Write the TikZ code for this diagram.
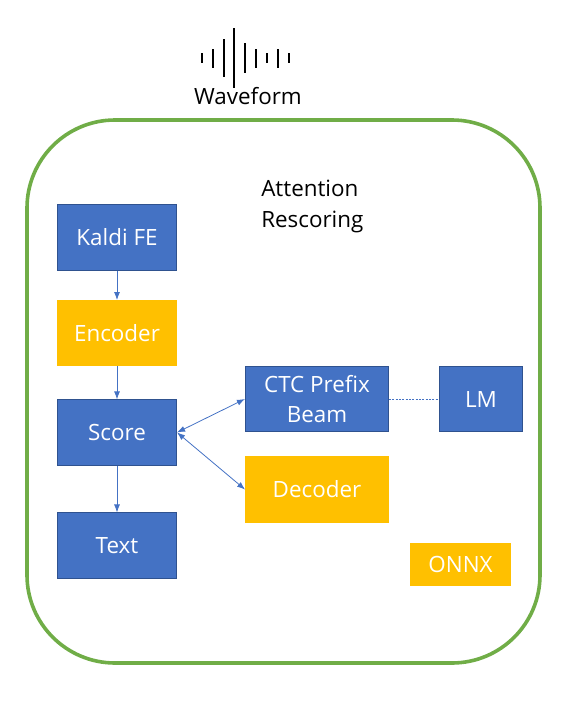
\documentclass[tikz,border=0pt]{standalone}
\usepackage{fontspec}
\setmainfont{Open Sans}
\usetikzlibrary{positioning, arrows.meta}
\definecolor{boxblue}{HTML}{4472C4}
\definecolor{boxedge}{HTML}{2F528F}
\definecolor{boxgold}{HTML}{FFC000}
\definecolor{framegreen}{HTML}{70AD47}
\tikzset{
  blockbase/.style={minimum height=49pt, inner sep=0pt, align=center, text=white, font=\fontsize{16.8}{23}\selectfont},
  blue block/.style={blockbase, fill=boxblue, draw=boxedge, line width=0.6pt},
  gold block/.style={blockbase, fill=boxgold},
  link/.style={-{Latex[length=6pt,width=4.5pt]}, draw=boxblue, line width=0.6pt},
  both link/.style={{Latex[length=6pt,width=4.5pt]}-{Latex[length=6pt,width=4.5pt]}, draw=boxblue, line width=0.6pt},
}
\begin{document}
\begin{tikzpicture}[x=0.75pt, y=-0.75pt, node distance=2cm, on grid]
  \useasboundingbox (0,0) rectangle (570,701);

  % Waveform
  \foreach \xpos/\ylow/\yhigh in {202.3/53/63, 212.7/49/68, 223.7/39/77, 234.3/28/88, 245.3/43/73, 256.3/49/68, 267/53/63, 278/49/68, 288.7/53/63}
    \draw[line width=1.4pt, black] (\xpos,\ylow) -- (\xpos,\yhigh);
  \node[font=\fontsize{16.8}{20}\selectfont] (wave) at (248,96) {Waveform};

  % Outer frame
  \draw[framegreen, line width=2.7pt, rounded corners=66pt] (27,120) rectangle (540,663);
  \node[font=\fontsize{16.8}{23}\selectfont, align=left, anchor=north west, inner sep=0pt] (title) at (261,180) {Attention\\Rescoring};

  % Left column
  \node[blue block, minimum width=89.5pt] (kaldi) at (117,237.5) {Kaldi FE};
  \node[gold block, minimum width=89.5pt] (encoder) [below=71.6pt of kaldi] {Encoder};
  \node[blue block, minimum width=89.5pt] (score) [below=74.6pt of encoder] {Score};
  \node[blue block, minimum width=89.5pt] (text) [below=84.8pt of score] {Text};

  % Right side
  \node[blue block, minimum width=107.5pt] (ctc) at (317,399) {CTC Prefix\\Beam};
  \node[gold block, minimum width=107.5pt, minimum height=50pt] (decoder) [below=67.9pt of ctc] {Decoder};
  \node[blue block, minimum width=62.5pt] (lm) [right=123pt of ctc] {LM};
  \node[gold block, minimum width=76pt, minimum height=32pt] (onnx) at (460.5,564.5) {ONNX};

  % Connections
  \draw[link] (kaldi) -- (encoder);
  \draw[link] (encoder) -- (score);
  \draw[link] (score) -- (text);
  \draw[both link] (score.east) -- (ctc.west);
  \draw[both link] (score.east) -- (decoder.west);
  \draw[boxblue, line width=0.6pt, dash pattern=on 1.5pt off 1pt] (ctc) -- (lm);
\end{tikzpicture}
\end{document}
